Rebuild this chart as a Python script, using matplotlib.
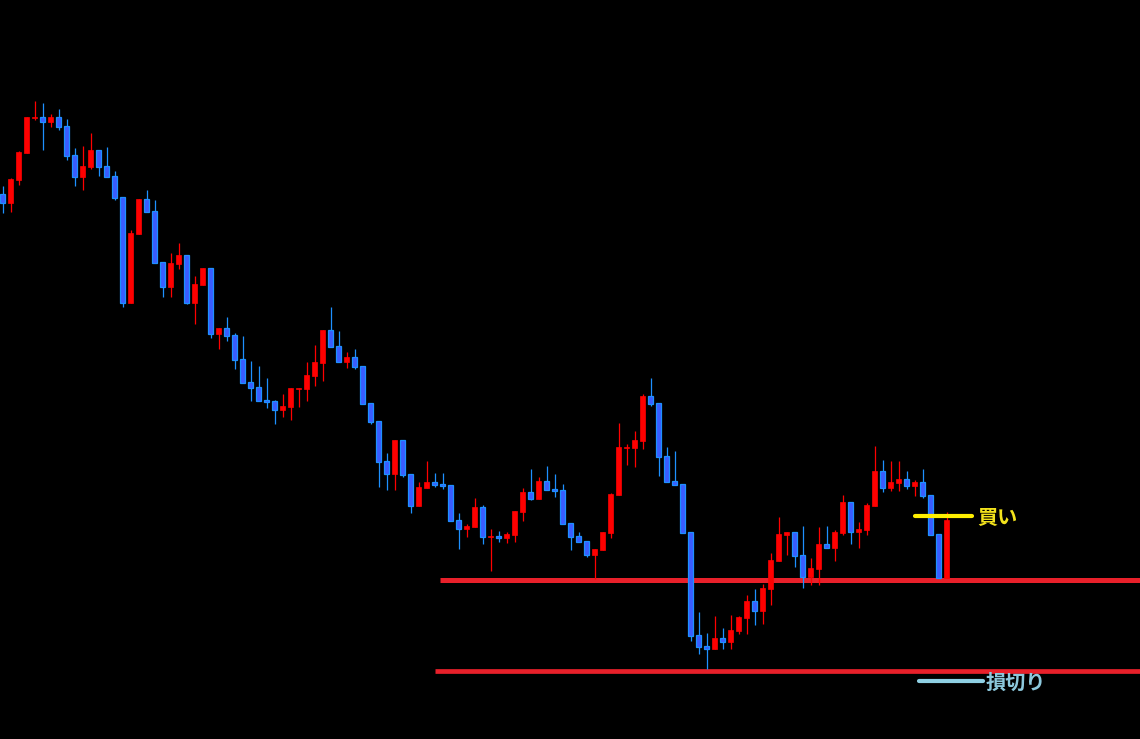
import numpy as np
import matplotlib
matplotlib.use('Agg')
import matplotlib.pyplot as plt

# OHLC values (arbitrary price units)
opens = [545, 536, 559, 586, 621, 622, 617, 622, 613, 584, 562, 572, 589, 573, 563, 542,
         436, 505, 540, 528, 477, 452, 475, 484, 436, 454, 471, 405, 411, 404, 380, 357,
         352, 339, 338, 329, 332, 350, 350, 363, 376, 409, 393, 377, 382, 373, 336, 318,
         278, 265, 299, 265, 233, 251, 257, 255, 254, 219, 210, 212, 232, 202, 203, 201,
         204, 227, 247, 240, 258, 250, 249, 216, 203, 198, 184, 189, 206, 244, 291, 291,
         298, 343, 336, 283, 258, 255, 207, 104, 93, 90, 101, 97, 108, 121, 138, 128,
         150, 178, 204, 207, 184, 162, 170, 195, 191, 206, 237, 207, 209, 233, 268, 251,
         256, 260, 253, 257, 244, 205, 161]
highs = [553, 561, 588, 622, 638, 636, 625, 630, 620, 591, 593, 606, 589, 592, 568, 542,
         509, 540, 549, 539, 477, 486, 496, 484, 463, 471, 471, 411, 422, 406, 403, 378,
         373, 361, 339, 345, 351, 351, 377, 394, 409, 432, 408, 387, 390, 373, 336, 318,
         286, 299, 299, 265, 257, 278, 266, 266, 254, 226, 215, 241, 234, 210, 208, 207,
         228, 251, 270, 262, 273, 265, 255, 216, 207, 198, 190, 207, 246, 316, 295, 308,
         345, 361, 336, 292, 288, 255, 207, 127, 106, 123, 111, 124, 123, 144, 150, 155,
         186, 222, 207, 207, 213, 181, 212, 213, 209, 244, 237, 217, 236, 293, 279, 278,
         278, 268, 259, 270, 244, 205, 227]
lows = [526, 527, 554, 586, 619, 589, 612, 609, 579, 553, 549, 570, 563, 562, 539, 432,
        436, 505, 527, 476, 442, 442, 470, 435, 415, 454, 401, 390, 398, 370, 356, 338,
        338, 331, 315, 322, 319, 332, 338, 353, 358, 392, 377, 371, 370, 335, 315, 252,
        249, 249, 262, 226, 233, 251, 252, 250, 218, 190, 202, 212, 195, 168, 197, 196,
        197, 218, 239, 240, 249, 242, 215, 189, 197, 182, 160, 189, 201, 244, 274, 272,
        290, 333, 263, 257, 254, 206, 98, 85, 70, 90, 90, 90, 105, 105, 114, 115,
        134, 178, 184, 172, 151, 154, 154, 191, 178, 204, 195, 191, 204, 233, 247, 248,
        248, 250, 243, 241, 204, 161, 161]
closes = [536, 560, 587, 622, 622, 617, 622, 612, 583, 562, 573, 589, 572, 562, 541, 436,
          506, 540, 527, 476, 452, 476, 484, 436, 455, 471, 405, 411, 403, 379, 356, 351,
          338, 337, 329, 333, 351, 351, 364, 377, 409, 392, 377, 382, 372, 335, 317, 277,
          265, 299, 264, 233, 252, 257, 254, 253, 218, 210, 213, 232, 202, 203, 201, 205,
          228, 247, 240, 258, 249, 248, 215, 202, 197, 184, 190, 207, 245, 292, 292, 299,
          343, 335, 282, 257, 254, 206, 103, 92, 90, 101, 97, 109, 122, 138, 128, 151,
          179, 205, 207, 183, 162, 171, 195, 191, 207, 237, 207, 210, 234, 268, 251, 257,
          260, 253, 257, 243, 204, 161, 219]

support_level = 159
lower_level = 68
entry_level = 223
stop_level = 58

up_color = '#ff0000'
down_fill = '#3a5cff'
down_edge = '#1e90ff'
line_red = '#e8202a'

fig = plt.figure(figsize=(11.4, 7.39), dpi=100, facecolor='black')
ax = fig.add_axes([0, 0, 1, 1])
ax.set_facecolor('black')

x = np.arange(len(opens))
o = np.array(opens, dtype=float)
c = np.array(closes, dtype=float)
h = np.array(highs, dtype=float)
l = np.array(lows, dtype=float)
up = c >= o

# horizontal levels
ax.hlines(support_level, 54.7, 145, color=line_red, linewidth=3.6, zorder=1)
ax.hlines(lower_level, 54.1, 145, color=line_red, linewidth=3.4, zorder=1)

# wicks
ax.vlines(x[up], l[up], h[up], color=up_color, linewidth=0.9, zorder=2)
ax.vlines(x[~up], l[~up], h[~up], color=down_edge, linewidth=0.9, zorder=2)

# bodies
bottom = np.minimum(o, c)
height = np.maximum(np.abs(c - o), 1.0)
ax.bar(x[up], height[up], bottom=bottom[up], width=0.62, color=up_color,
       edgecolor=up_color, linewidth=0.5, zorder=3)
ax.bar(x[~up], height[~up], bottom=bottom[~up], width=0.55, color=down_fill,
       edgecolor=down_edge, linewidth=0.9, zorder=3)

# entry / stop markers
ax.plot([114.1, 121.2], [entry_level, entry_level], color='#ffee00',
        linewidth=3.0, solid_capstyle='round', zorder=4)
ax.text(121.8, entry_level - 1, '買い', color='#f2e21c', fontsize=14.5, fontweight='bold',
        va='center', ha='left', family=['Noto Sans CJK JP', 'DejaVu Sans'])
ax.plot([114.6, 122.6], [stop_level, stop_level], color='#8fd0e4',
        linewidth=3.0, solid_capstyle='round', zorder=4)
ax.text(122.9, stop_level - 1, '損切り', color='#8cc8dc', fontsize=14.5, fontweight='bold',
        va='center', ha='left', family=['Noto Sans CJK JP', 'DejaVu Sans'])

ax.set_xlim(-0.3125, 142.1875)
ax.set_ylim(0, 739)
ax.axis('off')

plt.savefig('out.png', dpi=100, facecolor='black')
